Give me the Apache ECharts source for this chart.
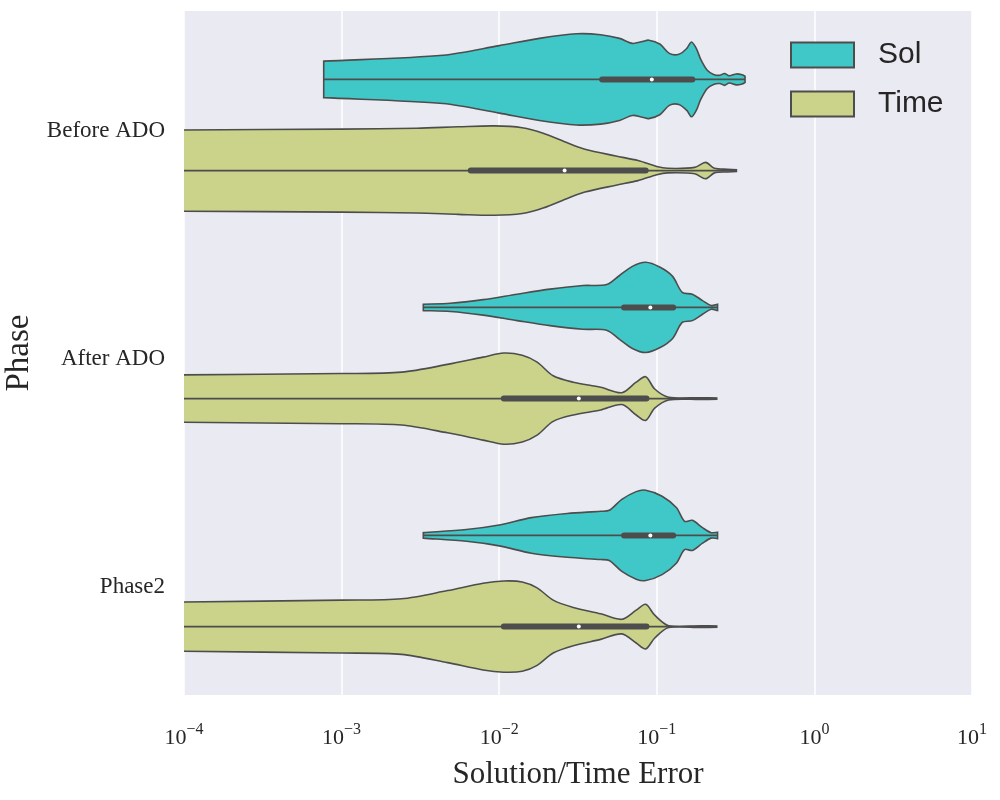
<!DOCTYPE html>
<html>
<head>
<meta charset="utf-8">
<script src="https://cdn.jsdelivr.net/npm/echarts@6/dist/echarts.min.js"></script>
<style>html,body{margin:0;background:#fff}#main{width:1000px;height:800px}</style>
</head>
<body>
<div id="main"></div>
<script>
var phases = ['Before ADO', 'After ADO', 'Phase2'];
var hues = ['Sol', 'Time'];

// density profiles: error value, relative density
var solBeforeAt = [7.7e-4, 4.4e-3, 1.0e-2, 1.8e-2, 3.1e-2, 4.4e-2, 5.8e-2, 7.0e-2, 8.1e-2, 8.9e-2, 0.105, 0.12, 0.138, 0.155, 0.166, 0.178, 0.19, 0.209, 0.229, 0.251, 0.269, 0.288, 0.32, 0.348, 0.363];
var solBeforeDens = [0.40, 0.53, 0.74, 0.90, 1.00, 0.98, 0.90, 0.79, 0.83, 0.86, 0.77, 0.57, 0.55, 0.68, 0.82, 0.68, 0.44, 0.20, 0.11, 0.09, 0.13, 0.08, 0.12, 0.10, 0.07];
var timeBeforeAt = [1e-5, 1e-4, 1.0e-3, 3.0e-3, 5.5e-3, 9.3e-3, 1.4e-2, 1.9e-2, 2.75e-2, 3.5e-2, 5.5e-2, 7.6e-2, 0.1, 0.117, 0.174, 0.204, 0.232, 0.282, 0.32];
var timeBeforeDens = [0.86, 0.89, 0.91, 0.93, 0.96, 0.98, 0.94, 0.82, 0.60, 0.47, 0.32, 0.22, 0.09, 0.05, 0.07, 0.18, 0.05, 0.03, 0.02];
var solAfterAt = [3.3e-3, 4.9e-3, 7.9e-3, 1.3e-2, 2.1e-2, 3.4e-2, 4.8e-2, 5.8e-2, 7.0e-2, 8.5e-2, 0.105, 0.126, 0.145, 0.168, 0.195, 0.221, 0.243];
var solAfterDens = [0.07, 0.09, 0.17, 0.29, 0.40, 0.48, 0.50, 0.70, 0.90, 0.99, 0.88, 0.68, 0.33, 0.29, 0.15, 0.04, 0.07];
var timeAfterAt = [1e-5, 1e-4, 1e-3, 2.4e-3, 4.7e-3, 7.9e-3, 1.07e-2, 1.4e-2, 1.74e-2, 2.2e-2, 2.95e-2, 4.4e-2, 6.0e-2, 7.4e-2, 8.5e-2, 9.7e-2, 0.119, 0.19, 0.24];
var timeAfterDens = [0.48, 0.52, 0.55, 0.58, 0.75, 0.91, 1.00, 0.95, 0.80, 0.50, 0.36, 0.25, 0.13, 0.36, 0.48, 0.21, 0.03, 0.02, 0.015];
var solPhase2At = [3.3e-3, 6.2e-3, 1.0e-2, 1.6e-2, 2.7e-2, 4.4e-2, 5.0e-2, 6.0e-2, 7.4e-2, 8.5e-2, 0.108, 0.133, 0.15, 0.168, 0.195, 0.221, 0.243];
var solPhase2Dens = [0.06, 0.13, 0.23, 0.39, 0.48, 0.53, 0.55, 0.79, 0.96, 0.99, 0.86, 0.61, 0.31, 0.33, 0.17, 0.06, 0.07];
var timePhase2At = [1e-5, 1e-4, 1e-3, 2.4e-3, 4.7e-3, 7.9e-3, 1.07e-2, 1.4e-2, 1.74e-2, 2.2e-2, 2.95e-2, 4.4e-2, 6.0e-2, 7.4e-2, 8.5e-2, 9.7e-2, 0.119, 0.19, 0.24];
var timePhase2Dens = [0.50, 0.54, 0.58, 0.61, 0.79, 0.95, 1.00, 0.98, 0.85, 0.58, 0.42, 0.28, 0.16, 0.36, 0.49, 0.25, 0.02, 0.02, 0.015];

// inner box: whisker ends, quartiles, median per phase
var solLow = [7.7e-4, 3.3e-3, 3.3e-3];
var solQ1 = [4.5e-2, 6.2e-2, 6.2e-2];
var solMed = [9.3e-2, 9.1e-2, 9.1e-2];
var solQ3 = [0.168, 0.127, 0.127];
var solHigh = [0.363, 0.243, 0.243];
var timeLow = [1e-5, 1e-5, 1e-5];
var timeQ1 = [6.6e-3, 1.07e-2, 1.07e-2];
var timeMed = [2.6e-2, 3.2e-2, 3.2e-2];
var timeQ3 = [8.5e-2, 8.6e-2, 8.6e-2];
var timeHigh = [0.32, 0.24, 0.24];

var colors = { Sol: '#40C8C8', Time: '#CBD38A' };
var edge = '#4d4d4d';

var profiles = {
    Sol: [[solBeforeAt, solBeforeDens], [solAfterAt, solAfterDens], [solPhase2At, solPhase2Dens]],
    Time: [[timeBeforeAt, timeBeforeDens], [timeAfterAt, timeAfterDens], [timePhase2At, timePhase2Dens]]
};
var boxes = {
    Sol: { low: solLow, q1: solQ1, med: solMed, q3: solQ3, high: solHigh },
    Time: { low: timeLow, q1: timeQ1, med: timeMed, q3: timeQ3, high: timeHigh }
};

function renderViolin(params, api) {
    var hue = params.seriesName;
    var k = api.value(1);
    var band = api.size([0, 1])[1];
    var off = (hue === 'Sol' ? -0.2 : 0.2) * band;
    var half = 0.2 * band;
    var at = profiles[hue][k][0], dens = profiles[hue][k][1];
    var top = [], bot = [];
    for (var i = 0; i < at.length; i++) {
        var p = api.coord([at[i], k]);
        top.push([p[0], p[1] + off - dens[i] * half]);
        bot.unshift([p[0], p[1] + off + dens[i] * half]);
    }
    // repeat the end points so the smoothing keeps the cut ends square
    top.unshift(top[0]); top.push(top[top.length - 1]);
    bot.unshift(bot[0]); bot.push(bot[bot.length - 1]);
    var b = boxes[hue];
    var cy = api.coord([b.med[k], k])[1] + off;
    var x = function(v) { return api.coord([v, k])[0]; };
    return {
        type: 'group',
        children: [
            { type: 'polygon', shape: { points: top.concat(bot), smooth: 0.3 },
              style: { fill: colors[hue], stroke: edge, lineWidth: 1.6 } },
            { type: 'line', shape: { x1: x(b.low[k]), y1: cy, x2: x(b.high[k]), y2: cy },
              style: { stroke: edge, lineWidth: 1.6 } },
            { type: 'line', shape: { x1: x(b.q1[k]), y1: cy, x2: x(b.q3[k]), y2: cy },
              style: { stroke: edge, lineWidth: 6, lineCap: 'round' } },
            { type: 'circle', shape: { cx: x(b.med[k]), cy: cy, r: 2 },
              style: { fill: '#fff' } }
        ]
    };
}

var chart = echarts.init(document.getElementById('main'));
chart.setOption({
    animation: false,
    grid: { left: 184, top: 11, right: 28, bottom: 105, outerBoundsMode: 'none', containLabel: false,
            show: true, backgroundColor: '#EAEAF2', borderWidth: 0 },
    legend: {
        data: hues, orient: 'vertical', left: 785, top: 35,
        icon: 'rect', itemWidth: 63, itemHeight: 25, itemGap: 19,
        textStyle: { fontFamily: 'Liberation Sans', fontSize: 30, color: '#262626', padding: [0, 0, 0, 19] }
    },
    xAxis: {
        type: 'log', logBase: 10, min: 1e-4, max: 10,
        name: 'Solution/Time Error', nameLocation: 'middle', nameGap: 64,
        nameTextStyle: { fontFamily: 'Liberation Serif', fontSize: 31, color: '#262626' },
        axisLine: { show: false }, axisTick: { show: false },
        splitLine: { show: true, lineStyle: { color: '#fff', width: 1.5 } },
        axisLabel: {
            margin: 27,
            formatter: function(v) {
                var e = Math.round(Math.log10(v));
                return '{b|10}{s|' + (e < 0 ? '\u2212' + (-e) : e) + '}';
            },
            rich: {
                b: { fontFamily: 'Liberation Serif', fontSize: 22, color: '#262626', lineHeight: 27, verticalAlign: 'bottom' },
                s: { fontFamily: 'Liberation Serif', fontSize: 16, color: '#262626', lineHeight: 16, verticalAlign: 'top' }
            }
        }
    },
    yAxis: {
        type: 'category', data: phases, inverse: true,
        name: 'Phase', nameLocation: 'middle', nameGap: 146, nameRotate: 90,
        nameTextStyle: { fontFamily: 'Liberation Serif', fontSize: 33, color: '#262626' },
        axisLine: { show: false }, axisTick: { show: false }, splitLine: { show: false },
        axisLabel: {
            margin: 19,
            formatter: '{a|{value}}',
            rich: { a: { fontFamily: 'Liberation Serif', fontSize: 23, color: '#262626', padding: [11, 0, 0, 0] } }
        }
    },
    series: hues.map(function(h) {
        var b = boxes[h];
        return {
            type: 'custom', name: h, clip: true,
            itemStyle: { color: colors[h], borderColor: edge, borderWidth: 1 },
            renderItem: renderViolin,
            data: phases.map(function(p, k) { return [b.med[k], k]; })
        };
    })
});
</script>
</body>
</html>
